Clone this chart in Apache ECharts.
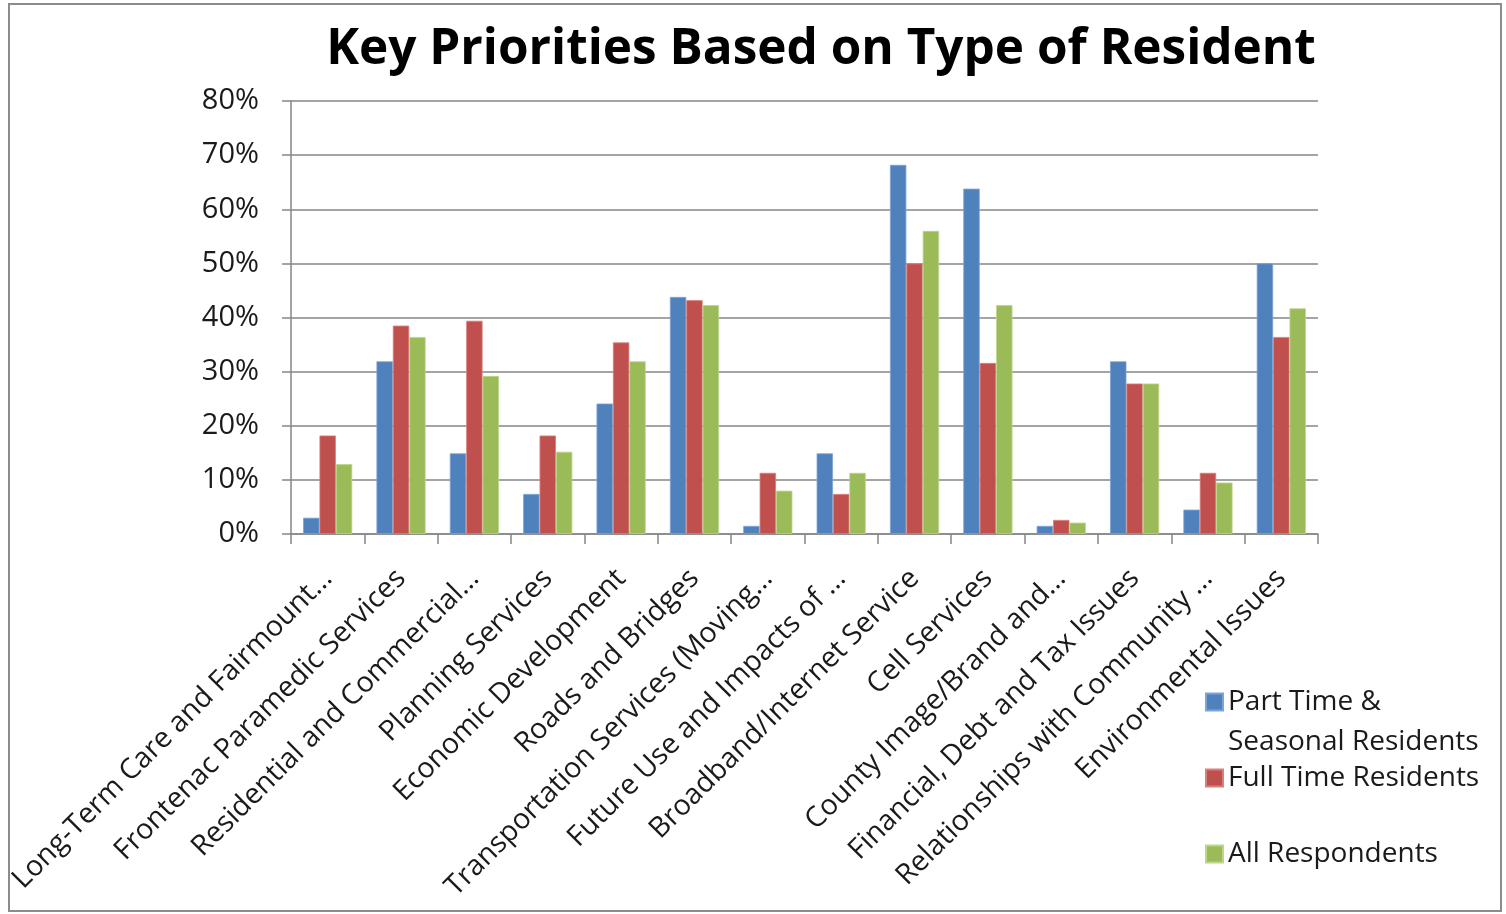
<!DOCTYPE html>
<html lang="en">
<head>
    <meta charset="UTF-8">
    <title>Key Priorities Based on Type of Resident</title>
    <script src="https://cdn.jsdelivr.net/npm/echarts@6/dist/echarts.min.js"></script>
    <style>
        body { margin: 0; background: #fff; }
        #main { width: 1506px; height: 914px; }
    </style>
</head>
<body>
<div id="main"></div>
<script type="text/javascript">
    // categories along the x axis
    var categories = [
        'Long-Term Care and Fairmount…',
        'Frontenac Paramedic Services',
        'Residential and Commercial…',
        'Planning Services',
        'Economic Development',
        'Roads and Bridges',
        'Transportation Services (Moving…',
        'Future Use and Impacts of …',
        'Broadband/Internet Service',
        'Cell Services',
        'County Image/Brand and…',
        'Financial, Debt and Tax Issues',
        'Relationships with Community …',
        'Environmental Issues'
    ];
    var seriesNames = ['Part Time &\nSeasonal Residents', 'Full Time Residents', 'All Respondents'];
    // values in percent
    var partTime = [3.0, 31.9, 14.9, 7.4, 24.1, 43.8, 1.5, 14.9, 68.2, 63.8, 1.5, 31.9, 4.5, 50.0];
    var fullTime = [18.2, 38.5, 39.4, 18.2, 35.4, 43.2, 11.3, 7.4, 50.0, 31.6, 2.6, 27.8, 11.3, 36.4];
    var allResp  = [12.9, 36.4, 29.2, 15.2, 31.9, 42.3, 8.0, 11.3, 56.0, 42.3, 2.1, 27.8, 9.5, 41.7];
    var yTicks = { min: 0, max: 80, step: 10 };

    var colors = ['#4F81BD', '#C0504D', '#9BBB59'];
    var font = '"Open Sans", Lato, sans-serif';

    var legendText = { fontFamily: font, fontSize: 28, color: '#1a1a1a', lineHeight: 40 };

    var myChart = echarts.init(document.getElementById('main'));
    myChart.setOption({
        animation: false,
        color: colors,
        title: {
            text: 'Key Priorities Based on Type of Resident',
            left: 816, top: 20, textAlign: 'center',
            textStyle: { fontFamily: font, fontWeight: 'bold', fontSize: 49.5, color: '#000' }
        },
        // one legend per entry so each sits where the original put it
        legend: [
            // blank first line keeps "Part Time &" level with the square
            { data: [seriesNames[0]], left: 1205, top: 642, padding: 0, itemWidth: 17, itemHeight: 17, icon: 'rect',
              formatter: function (name) { return ' \n' + name; }, textStyle: legendText },
            { data: [seriesNames[1]], left: 1205, top: 758, padding: 0, itemWidth: 17, itemHeight: 17, icon: 'rect',
              textStyle: legendText },
            { data: [seriesNames[2]], left: 1205, top: 834, padding: 0, itemWidth: 17, itemHeight: 17, icon: 'rect',
              textStyle: legendText }
        ],
        graphic: [{
            type: 'rect', silent: true,
            shape: { x: 9, y: 4, width: 1492, height: 907 },
            style: { fill: 'none', stroke: '#8c8c8c', lineWidth: 2 }
        }],
        grid: { left: 291, right: 188, top: 101, bottom: 380, containLabel: false },
        xAxis: {
            type: 'category',
            data: categories,
            axisLine: { lineStyle: { color: '#868686', width: 1.5 } },
            axisTick: { show: true, length: 10, alignWithLabel: false, lineStyle: { color: '#868686', width: 1.5 } },
            axisLabel: { interval: 0, rotate: 45, margin: 40, fontFamily: font, fontSize: 28.5, color: '#1a1a1a' }
        },
        yAxis: {
            type: 'value',
            min: yTicks.min, max: yTicks.max, interval: yTicks.step,
            axisLine: { show: true, lineStyle: { color: '#868686', width: 1.5 } },
            axisTick: { show: true, inside: false, length: 9, lineStyle: { color: '#868686', width: 1.5 } },
            splitLine: { lineStyle: { color: '#868686', width: 1.5 } },
            axisLabel: { formatter: '{value}%', margin: 32, fontFamily: font, fontSize: 29, color: '#1a1a1a' }
        },
        series: [
            { name: seriesNames[0], type: 'bar', data: partTime, barGap: '0%', barCategoryGap: '33%',
              itemStyle: { borderColor: '#7ea3d6', borderWidth: 0.8 } },
            { name: seriesNames[1], type: 'bar', data: fullTime, barGap: '0%', barCategoryGap: '33%',
              itemStyle: { borderColor: '#d8807e', borderWidth: 0.8 } },
            { name: seriesNames[2], type: 'bar', data: allResp, barGap: '0%', barCategoryGap: '33%',
              itemStyle: { borderColor: '#bcd68a', borderWidth: 0.8 } }
        ]
    });
</script>
</body>
</html>
